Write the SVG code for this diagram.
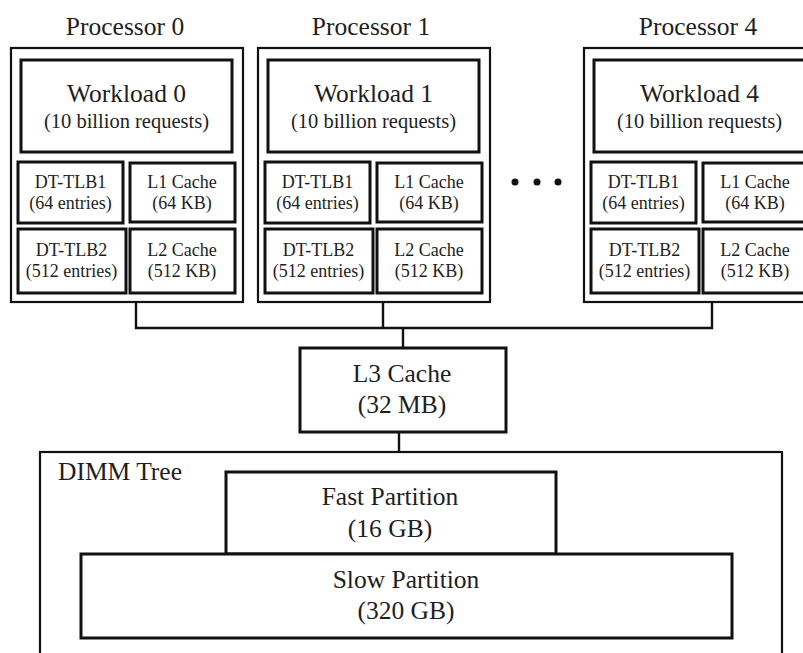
<svg xmlns="http://www.w3.org/2000/svg" width="803" height="653" viewBox="0 0 803 653">
  <style>
    .frame { fill: #fff; stroke: #111; stroke-width: 2.2; }
    .box { fill: #fff; stroke: #111; stroke-width: 3; }
    .wire { fill: none; stroke: #111; stroke-width: 2.4; }
    text { font-family: "Liberation Serif", "Times New Roman", serif; fill: #1e1e1e; text-anchor: middle; }
    .big { font-size: 25.5px; }
    .mid { font-size: 20.5px; }
    .small { font-size: 18px; }
  </style>
  <defs>
    <!-- one processor: outer frame, workload and four cache/TLB boxes -->
    <g id="cpu">
      <rect class="frame" x="0" y="48" width="232" height="254"/>
      <rect class="box" x="10" y="60" width="211" height="92"/>
      <rect class="box" x="7" y="162" width="105" height="61"/>
      <rect class="box" x="119" y="163" width="105" height="59"/>
      <rect class="box" x="7" y="229" width="108" height="64"/>
      <rect class="box" x="119" y="229" width="105" height="64"/>
      <text class="small" x="59.5" y="188">DT-TLB1</text>
      <text class="small" x="59.5" y="209">(64 entries)</text>
      <text class="small" x="171" y="188">L1 Cache</text>
      <text class="small" x="171" y="209">(64 KB)</text>
      <text class="small" x="60.5" y="256">DT-TLB2</text>
      <text class="small" x="60.5" y="277">(512 entries)</text>
      <text class="small" x="171" y="256">L2 Cache</text>
      <text class="small" x="171" y="277">(512 KB)</text>
    </g>
  </defs>

  <!-- connectors -->
  <g id="connectors">
    <polyline class="wire" points="136,302 136,328 712,328 712,302"/>
    <line class="wire" x1="383" y1="302" x2="383" y2="328"/>
    <line class="wire" x1="403" y1="328" x2="403" y2="348"/>
    <line class="wire" x1="399" y1="432" x2="399" y2="452"/>
  </g>

  <g id="processor0">
    <text class="big" x="125" y="35">Processor 0</text>
    <use href="#cpu" x="11" y="0"/>
    <text class="big" x="126.5" y="102">Workload 0</text>
    <text class="mid" x="126.5" y="128">(10 billion requests)</text>
  </g>

  <g id="processor1">
    <text class="big" x="371" y="35">Processor 1</text>
    <use href="#cpu" x="258" y="0"/>
    <text class="big" x="373.5" y="102">Workload 1</text>
    <text class="mid" x="373.5" y="128">(10 billion requests)</text>
  </g>

  <g id="ellipsis">
    <circle cx="515" cy="182" r="3.5" fill="#111"/>
    <circle cx="537" cy="182" r="3.5" fill="#111"/>
    <circle cx="558" cy="182" r="3.5" fill="#111"/>
  </g>

  <g id="processor4">
    <text class="big" x="698" y="35">Processor 4</text>
    <use href="#cpu" x="584" y="0"/>
    <text class="big" x="699.5" y="102">Workload 4</text>
    <text class="mid" x="699.5" y="128">(10 billion requests)</text>
  </g>

  <g id="l3cache">
    <rect class="box" x="300" y="348" width="206" height="84"/>
    <text class="big" x="402" y="382">L3 Cache</text>
    <text class="big" x="402" y="413">(32 MB)</text>
  </g>

  <g id="dimm">
    <rect class="frame" x="40" y="452" width="742" height="220"/>
    <text class="big" x="58" y="480" style="text-anchor:start">DIMM Tree</text>
  </g>

  <g id="fast">
    <rect class="box" x="226" y="472" width="330" height="82"/>
    <text class="big" x="390" y="505">Fast Partition</text>
    <text class="big" x="390" y="537">(16 GB)</text>
  </g>

  <g id="slow">
    <rect class="box" x="81" y="554" width="651" height="84"/>
    <text class="big" x="406" y="588">Slow Partition</text>
    <text class="big" x="406" y="619">(320 GB)</text>
  </g>
</svg>
